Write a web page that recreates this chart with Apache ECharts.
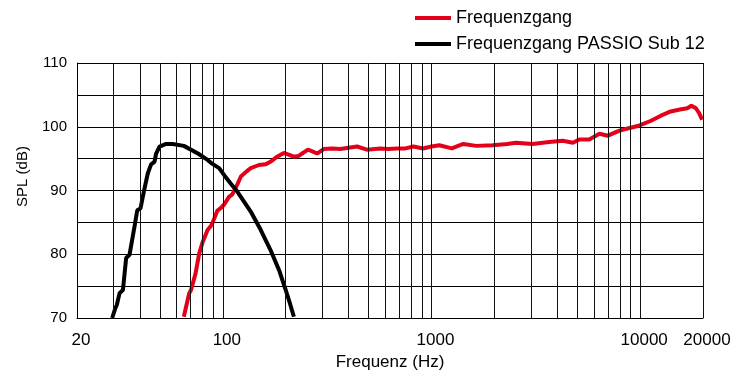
<!DOCTYPE html>
<html>
<head>
<meta charset="utf-8">
<script src="https://cdn.jsdelivr.net/npm/echarts@6/dist/echarts.min.js"></script>
<style>
  html, body { margin: 0; padding: 0; background: #fff; }
  #chart { width: 740px; height: 376px; }
</style>
</head>
<body>
<div id="chart"></div>
<script>
// vertical grid lines (Hz)
var gridFreqs = [30, 40, 50, 60, 70, 80, 90, 100, 200, 300, 400, 500, 600, 700, 800, 900, 1000,
  2000, 3000, 4000, 5000, 6000, 7000, 8000, 9000, 10000, 20000];

// Frequenzgang (red)
var redFreq = [65, 69, 70.4, 74, 77, 80, 84.5, 88, 91, 94, 98, 101.5, 107, 111, 117.5, 122, 130, 136, 149, 160,
  169, 182, 196, 208, 219, 230, 240, 256, 270, 283, 304, 335, 366, 400, 440, 490, 568, 620, 682, 750,
  820, 910, 1000, 1090, 1250, 1420, 1640, 1960, 2300, 2540, 3050, 3660, 4250, 4760, 5110, 5700, 6380, 7000,
  7960, 8890, 9930, 11200, 12500, 14000, 15500, 16800, 17600, 18500, 19200, 19800];
var redSpl = [70.2, 73.9, 74.4, 77.0, 80.1, 81.9, 83.8, 84.5, 85.6, 86.8, 87.3, 87.8, 89.0, 89.4, 91.0, 92.2, 93.0, 93.5, 94.0, 94.1,
  94.5, 95.3, 95.9, 95.6, 95.3, 95.4, 95.8, 96.4, 96.1, 95.8, 96.5, 96.6, 96.5, 96.7, 96.9, 96.4, 96.6, 96.5, 96.6, 96.6,
  96.9, 96.6, 96.9, 97.1, 96.6, 97.3, 97.0, 97.1, 97.3, 97.5, 97.3, 97.6, 97.8, 97.5, 98.0, 98.0, 98.9, 98.6,
  99.4, 99.8, 100.2, 100.9, 101.7, 102.4, 102.7, 102.9, 103.3, 102.9, 102.1, 101.1];

// Frequenzgang PASSIO Sub 12 (black)
var blackFreq = [29.5, 30.5, 31, 32, 33.2, 34.4, 35.7, 37.7, 38.9, 40.3, 41.8, 43.7, 45.3, 47, 47.9, 49.7, 53.5, 57.5,
  65, 73, 76, 84.5, 88, 96, 101.5, 109, 117.5, 136, 152, 169, 186, 200, 210, 219];
var blackSpl = [70.0, 71.5, 72.0, 73.9, 74.4, 79.4, 79.9, 84.3, 86.9, 87.2, 89.8, 92.7, 94.1, 94.5, 95.8, 96.9, 97.3, 97.3,
  97.0, 96.1, 95.8, 94.8, 94.3, 93.5, 92.4, 91.1, 89.8, 86.7, 83.8, 80.7, 77.5, 74.4, 72.2, 70.2];

var FONT = 'Liberation Sans';

function pairs(xs, ys) {
  return xs.map(function (x, i) { return [x, ys[i]]; });
}

var chart = echarts.init(document.getElementById('chart'), null, { renderer: 'canvas' });

chart.setOption({
  backgroundColor: '#ffffff',
  animation: false,
  grid: { left: 77, right: 37, top: 63, bottom: 58 },
  legend: {
    orient: 'vertical',
    left: 410,
    top: 4,
    itemWidth: 36,
    itemHeight: 4,
    itemGap: 8,
    textStyle: { fontFamily: FONT, fontSize: 18, color: '#000' },
    data: [
      { name: 'Frequenzgang', icon: 'rect' },
      { name: 'Frequenzgang PASSIO Sub 12', icon: 'rect' }
    ]
  },
  xAxis: {
    type: 'log',
    logBase: 10,
    min: 20,
    max: 20000,
    name: 'Frequenz (Hz)',
    nameLocation: 'middle',
    nameGap: 33,
    nameTextStyle: { fontFamily: FONT, fontSize: 17, color: '#000' },
    axisLine: { show: true, lineStyle: { color: '#000', width: 1 } },
    axisTick: { show: false },
    splitLine: { show: false },
    axisLabel: {
      fontFamily: FONT, fontSize: 17, color: '#000', margin: 14,
      padding: [0, 0, 0, 8],
      formatter: function (v) { return String(Math.round(v)); }
    }
  },
  yAxis: {
    type: 'value',
    min: 70,
    max: 110,
    interval: 5,
    name: 'SPL (dB)',
    nameLocation: 'middle',
    nameGap: 47,
    nameTextStyle: { fontFamily: FONT, fontSize: 15, color: '#000', padding: [0, 0, 0, 28] },
    axisLine: { show: true, lineStyle: { color: '#000', width: 1 } },
    axisTick: { show: false },
    splitLine: { show: true, lineStyle: { color: '#000', width: 1 } },
    axisLabel: {
      fontFamily: FONT, fontSize: 15, color: '#000', margin: 10,
      formatter: function (v) { return v % 10 === 0 ? String(v) : ''; }
    }
  },
  series: [
    {
      name: 'grid',
      type: 'line',
      data: [],
      z: 1,
      silent: true,
      markLine: {
        silent: true,
        symbol: 'none',
        label: { show: false },
        lineStyle: { color: '#111', width: 1, type: 'solid' },
        data: gridFreqs.map(function (f) { return { xAxis: f }; })
      }
    },
    {
      name: 'Frequenzgang',
      type: 'line',
      z: 3,
      showSymbol: false,
      color: '#e3001b',
      lineStyle: { width: 4, color: '#e3001b' },
      data: pairs(redFreq, redSpl)
    },
    {
      name: 'Frequenzgang PASSIO Sub 12',
      type: 'line',
      z: 3,
      showSymbol: false,
      color: '#000',
      lineStyle: { width: 4, color: '#000' },
      data: pairs(blackFreq, blackSpl)
    }
  ]
});
</script>
</body>
</html>
